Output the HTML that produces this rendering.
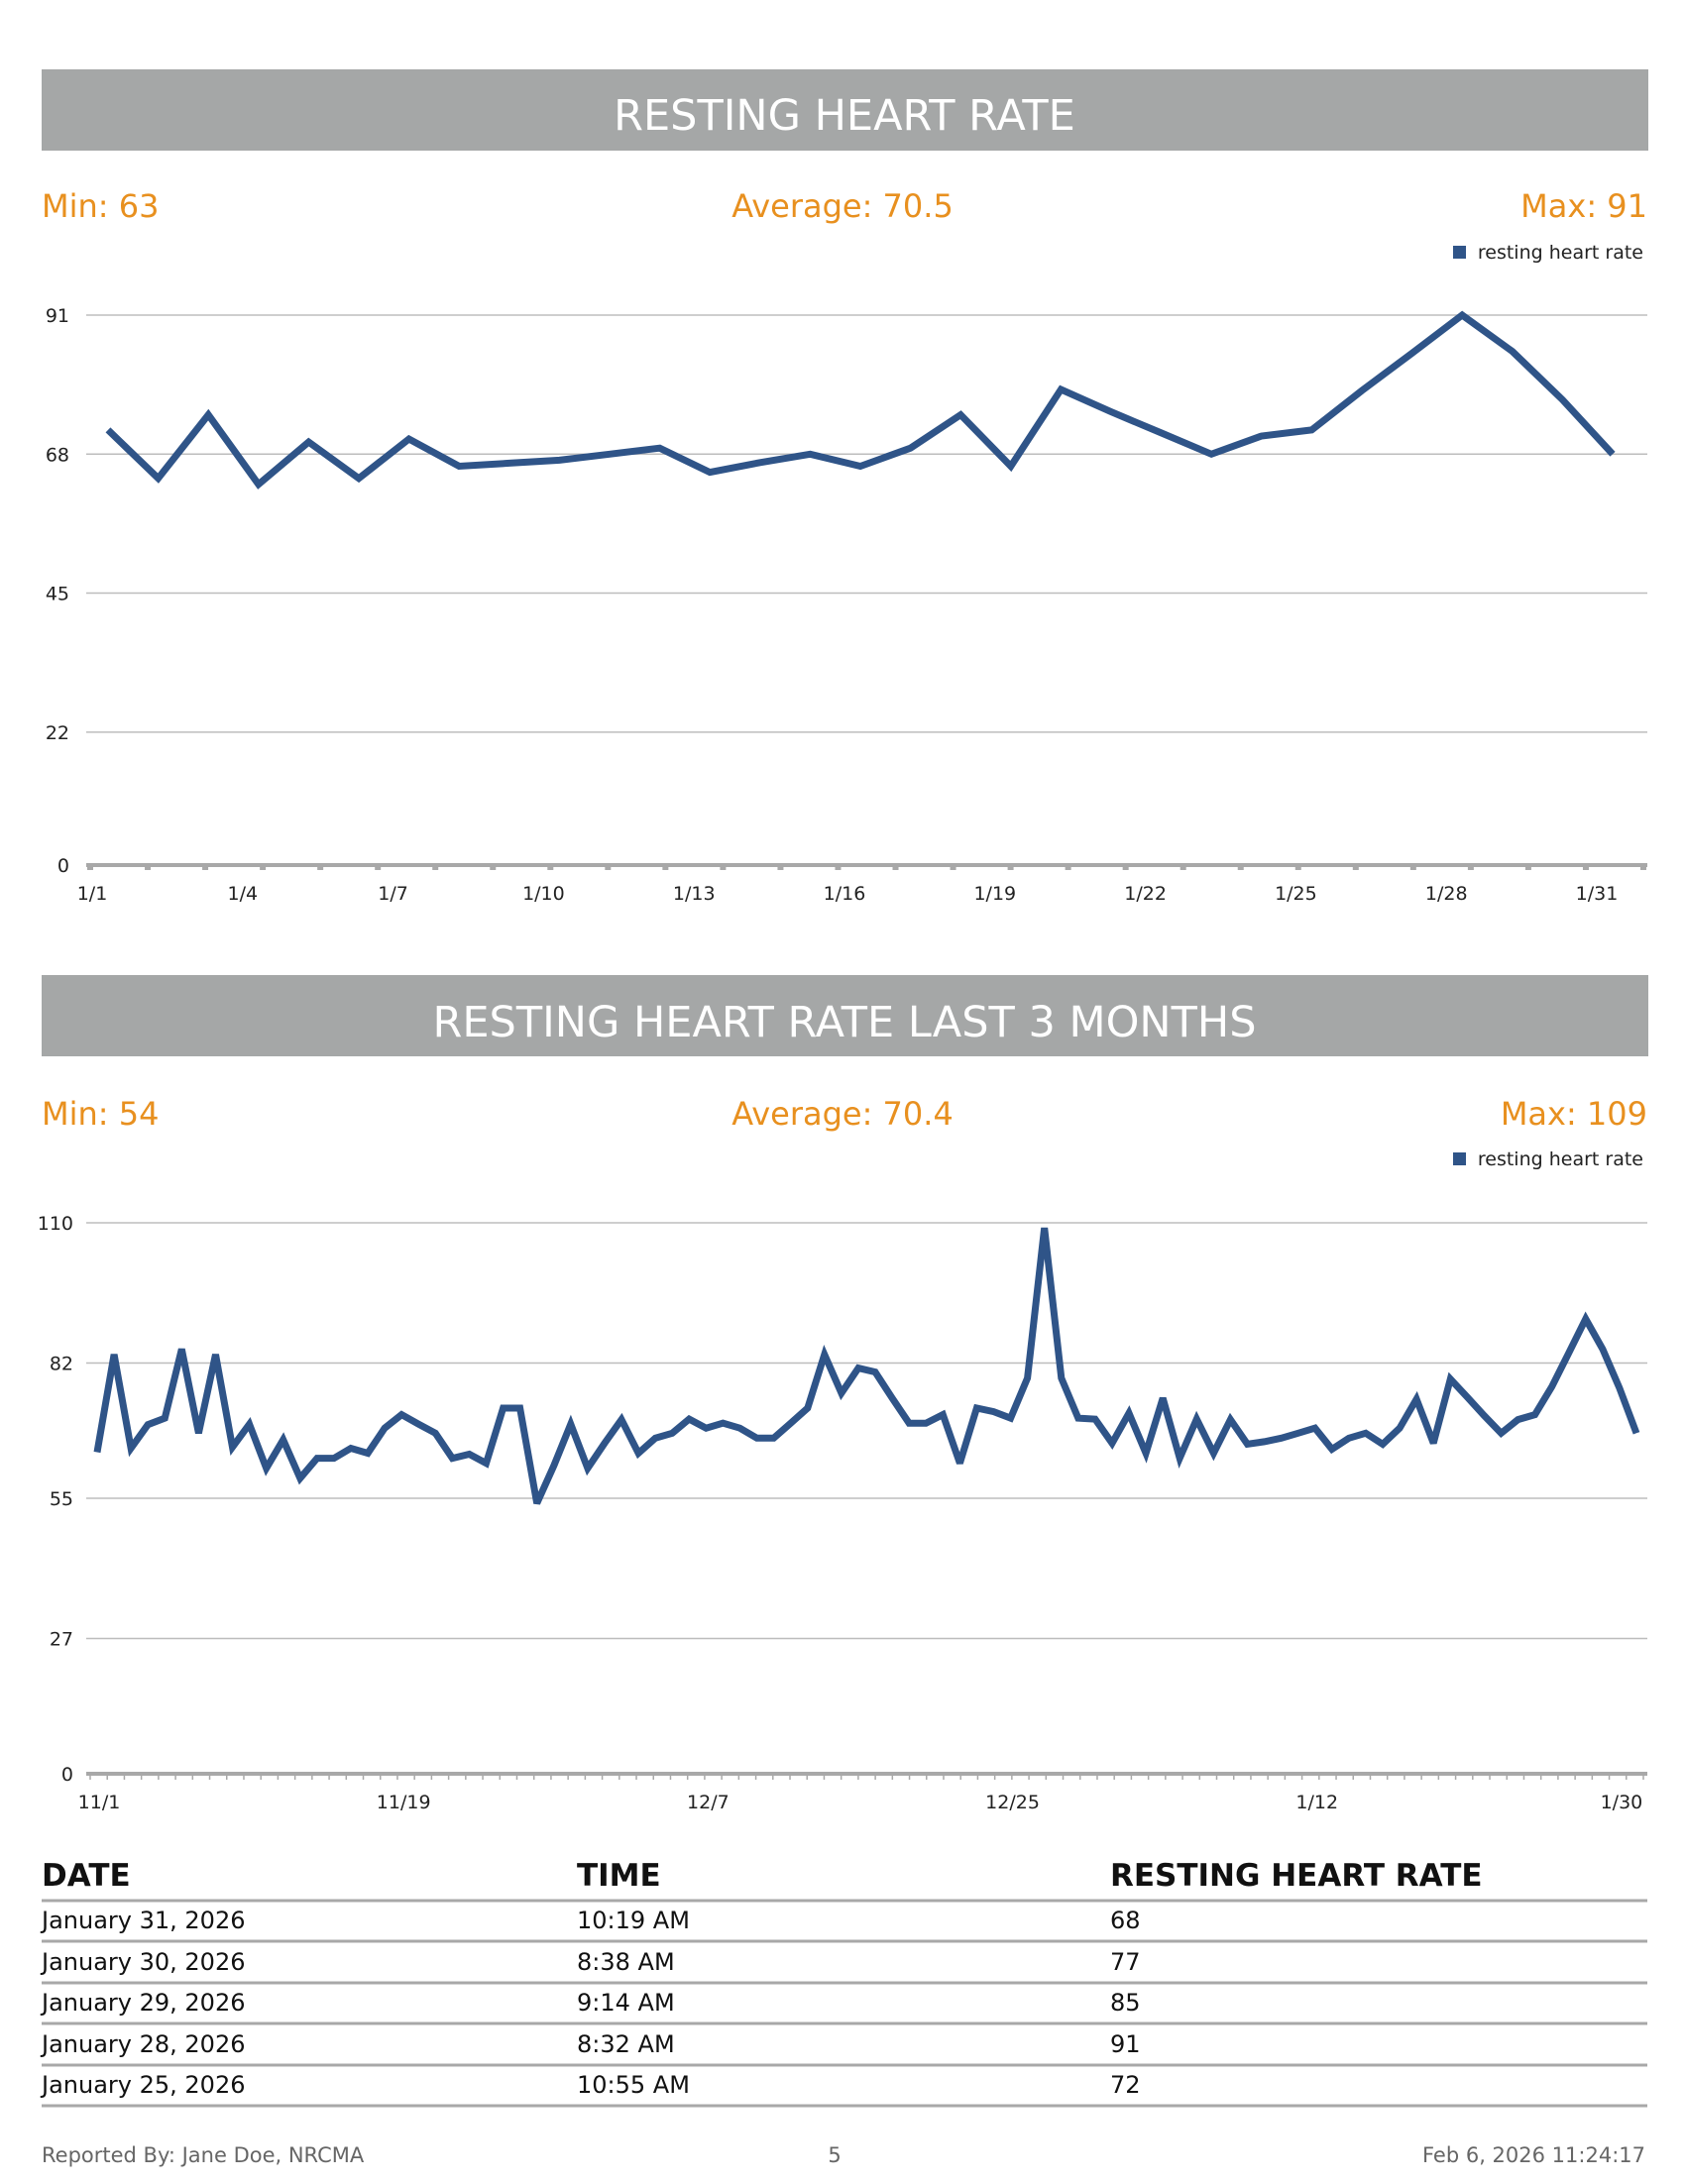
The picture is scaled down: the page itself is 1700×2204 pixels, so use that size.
<!DOCTYPE html>
<html><head><meta charset="utf-8">
<style>
html,body{margin:0;padding:0;background:#fff;}
body{width:1700px;height:2200px;overflow:hidden;font-family:"DejaVu Sans","Liberation Sans",sans-serif;}
svg text{font-family:"DejaVu Sans","Liberation Sans",sans-serif;}
</style></head>
<body>
<svg id="page" width="1700" height="2200" viewBox="0 0 1700 2200" xmlns="http://www.w3.org/2000/svg">
  <rect x="42" y="70" width="1621" height="82" fill="#A5A7A7"/>
  <text x="852" y="131" text-anchor="middle" font-size="43" fill="#fff">RESTING HEART RATE</text>
  <text x="42" y="219" font-size="32" fill="#E8901F">Min: 63</text>
  <text x="850" y="219" text-anchor="middle" font-size="32" fill="#E8901F">Average: 70.5</text>
  <text x="1662" y="219" text-anchor="end" font-size="32" fill="#E8901F">Max: 91</text>
  <g>
    <rect x="1466" y="248" width="13" height="13" fill="#2F5488"/>
    <text x="1658" y="261" text-anchor="end" font-size="19" fill="#222">resting heart rate</text>
  </g>
  <g id="chart1"></g>

  <rect x="42" y="984" width="1621" height="82" fill="#A5A7A7"/>
  <text x="852" y="1046" text-anchor="middle" font-size="43" fill="#fff">RESTING HEART RATE LAST 3 MONTHS</text>
  <text x="42" y="1135" font-size="32" fill="#E8901F">Min: 54</text>
  <text x="850" y="1135" text-anchor="middle" font-size="32" fill="#E8901F">Average: 70.4</text>
  <text x="1662" y="1135" text-anchor="end" font-size="32" fill="#E8901F">Max: 109</text>
  <g>
    <rect x="1466" y="1163" width="13" height="13" fill="#2F5488"/>
    <text x="1658" y="1176" text-anchor="end" font-size="19" fill="#222">resting heart rate</text>
  </g>
  <g id="chart2"></g>

  <g>
    <text x="42" y="1903" font-size="31" font-weight="bold" fill="#111">DATE</text>
    <text x="582" y="1903" font-size="31" font-weight="bold" fill="#111">TIME</text>
    <text x="1120" y="1903" font-size="31" font-weight="bold" fill="#111">RESTING HEART RATE</text>
    <g id="rows"></g>
  </g>
  <text x="42" y="2182" font-size="21" fill="#666">Reported By: Jane Doe, NRCMA</text>
  <text x="842" y="2182" text-anchor="middle" font-size="21" fill="#666">5</text>
  <text x="1660" y="2182" text-anchor="end" font-size="21" fill="#666">Feb 6, 2026 11:24:17</text>
</svg>
<script>
const NS = "http://www.w3.org/2000/svg";
const c1Ticks = [0, 22, 45, 68, 91];
const c1Labels = ["1/1","1/4","1/7","1/10","1/13","1/16","1/19","1/22","1/25","1/28","1/31"];
const c1Values = [72,64,74.5,63,70,64,70.5,66,66.5,67,68,69,65,66.6,68,66,69,74.5,66,78.7,75,71.5,68,71,72,78.5,84.7,91,85,77,68];
const c2Ticks = [0, 27, 55, 82, 110];
const c2Labels = ["11/1","11/19","12/7","12/25","1/12","1/30"];
const c2Values = [64.2,83.7,65,69.7,71,84.8,68,83.7,65.2,69.8,61,66.7,59,63,63,65,64,69,71.7,69.8,68,63,63.8,62,73,73,54,61.5,69.8,61,66,70.7,64,67,68,70.8,69,70,69,67,67,70,73,83.7,76,81,80.2,75,70,70,71.7,62,73,72.3,71,79,109,79,71,70.8,66,72,64,75,63,70.8,64,70.7,65.8,66.3,67,68,69,64.8,67,68,65.8,69,74.8,66,78.8,75.2,71.5,68,70.7,71.7,77.3,84,90.8,84.8,77,68];
const tableDates = ["January 31, 2026","January 30, 2026","January 29, 2026","January 28, 2026","January 25, 2026"];
const tableTimes = ["10:19 AM","8:38 AM","9:14 AM","8:32 AM","10:55 AM"];
const tableRates = ["68","77","85","91","72"];

function mk(tag, attrs, parent){const e=document.createElementNS(NS,tag);for(const k in attrs)e.setAttribute(k,attrs[k]);parent.appendChild(e);return e;}

function drawChart(g, ticks, values, labels, labelStep, opt){
  const yMax = ticks[ticks.length-1];
  const y = v => opt.y0 - v/yMax*(opt.y0-opt.yTop);
  const x = i => opt.x0 + i*(opt.x1-opt.x0)/(values.length-1);
  const R = 1662;
  ticks.forEach(t=>{
    if(t>0){const l=mk("line",{x1:opt.gx0,x2:R,y1:y(t),y2:y(t),stroke:"#BDBDBD","stroke-width":1.5},g);
      
      }
    const tx=mk("text",{x:opt.lx,y:y(t)+7,"text-anchor":"end","font-size":19,fill:"#222"},g);
    tx.textContent=t;
    
    
  });
  const ax=mk("line",{x1:opt.gx0,x2:R,y1:opt.y0,y2:opt.y0,stroke:"#A8A8A8","stroke-width":4},g);
  
  
  const nT = opt.nTicks;
  for(let i=0;i<=nT;i++){
    const tx = opt.gx0+4 + i*(R-4-opt.gx0-4)/nT;
    const tk=mk("line",{x1:tx,x2:tx,y1:opt.y0,y2:opt.y0+opt.tickLen,stroke:"#A8A8A8","stroke-width":opt.tickW},g);
    
    
  }
  labels.forEach((lab,k)=>{
    const t=mk("text",{x:x(k*labelStep)+opt.labOff,y:opt.labY,"text-anchor":"middle","font-size":19,fill:"#222"},g);
    t.textContent=lab;
    
    
  });
  const pts = values.map((v,i)=>x(i).toFixed(1)+","+y(v).toFixed(1)).join(" ");
  const pl=mk("polyline",{points:pts,fill:"none",stroke:"#2F5488","stroke-width":7,"stroke-linejoin":"miter","stroke-miterlimit":3},g);
  
  
}
drawChart(document.getElementById("chart1"), c1Ticks, c1Values, c1Labels, 3,
  {x0:109,x1:1627,y0:873,yTop:318,gx0:87,lx:70,labY:908,labOff:-16,nTicks:27,tickLen:5,tickW:6});
drawChart(document.getElementById("chart2"), c2Ticks, c2Values, c2Labels, 18,
  {x0:98,x1:1651,y0:1790,yTop:1234,gx0:87,lx:74,labY:1825,labOff:2,nTicks:91,tickLen:6,tickW:1.5});

const rows=document.getElementById("rows");
const rowY=[1946,1988,2029,2071,2112];
const lineY=[1918,1959,2001,2042,2084,2125];
lineY.forEach(ly=>{
  const l=mk("line",{x1:42,x2:1662,y1:ly,y2:ly,stroke:"#A8A8A8","stroke-width":3},rows);
  
  
});
tableDates.forEach((d,i)=>{
  const a=mk("text",{x:42,y:rowY[i],"font-size":24,fill:"#111"},rows);a.textContent=d;
  
  
  const b=mk("text",{x:582,y:rowY[i],"font-size":24,fill:"#111"},rows);b.textContent=tableTimes[i];
  
  
  const c=mk("text",{x:1120,y:rowY[i],"font-size":24,fill:"#111"},rows);c.textContent=tableRates[i];
  
  
});
</script>
</body></html>
